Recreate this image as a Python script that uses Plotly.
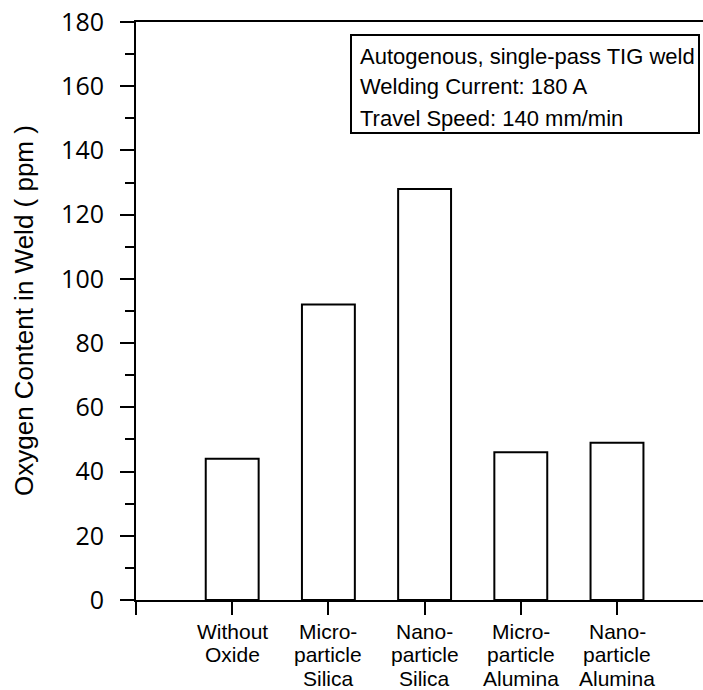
import plotly.graph_objects as go

category_lines = [["Without", "Oxide"], ["Micro-", "particle", "Silica"], ["Nano-", "particle", "Silica"],
                  ["Micro-", "particle", "Alumina"], ["Nano-", "particle", "Alumina"]]
oxygen_ppm = [44, 92, 128, 46, 49]
y_title = "Oxygen Content in Weld ( ppm )"
note_lines = ["Autogenous, single-pass TIG weld", "Welding Current: 180 A", "Travel Speed: 140 mm/min"]

xpos = list(range(len(category_lines)))
FONT = "Liberation Sans, Arial"

W, H = 703, 690
ML, MR, MT, MB = 136, 0, 22, 90
PW, PH = W - ML - MR, H - MT - MB


def px_to_paper_x(px):
    return (px - ML) / PW


def px_to_paper_y(py):
    return (H - MB - py) / PH


fig = go.Figure()
fig.add_trace(go.Bar(
    x=xpos, y=oxygen_ppm, width=0.55,
    marker=dict(color="white", line=dict(color="black", width=2)),
    showlegend=False,
))

fig.update_layout(
    width=W, height=H,
    margin=dict(l=ML, r=MR, t=MT, b=MB),
    plot_bgcolor="white", paper_bgcolor="white",
    font=dict(family=FONT, color="black"),
)

fig.update_xaxes(
    range=[-1, 4.894],
    tickvals=[-1] + xpos, showticklabels=False,
    ticks="outside", ticklen=13, tickwidth=2, tickcolor="black",
    showline=True, linecolor="black", linewidth=2, mirror=True,
    showgrid=False, zeroline=False,
)
fig.update_yaxes(
    range=[0, 180], dtick=20, tick0=0,
    ticks="outside", ticklen=14, tickwidth=2, tickcolor="black",
    minor=dict(dtick=10, ticks="outside", ticklen=9, tickwidth=2, tickcolor="black", showgrid=False),
    showline=True, linecolor="black", linewidth=2, mirror=False,
    showgrid=False, zeroline=False,
    tickfont=dict(size=25, family="Open Sans"),
    ticklabelstandoff=11,
)

# y-axis title
fig.add_annotation(
    xref="paper", yref="paper", x=px_to_paper_x(24), y=px_to_paper_y(311),
    xanchor="center", yanchor="middle", textangle=-90, showarrow=False,
    text=y_title, font=dict(size=26, family=FONT, color="black"),
)

# category labels (one annotation per line for tight line spacing)
line_centers = [631, 654.5, 678]
for xi, lines in zip(xpos, category_lines):
    for li, t in enumerate(lines):
        fig.add_annotation(
            xref="x", yref="paper", x=xi, y=px_to_paper_y(line_centers[li]),
            xanchor="center", yanchor="middle", showarrow=False,
            text=t, font=dict(size=21, family=FONT, color="black"),
        )

# note box
fig.add_shape(
    type="rect", xref="paper", yref="paper",
    x0=px_to_paper_x(351), x1=px_to_paper_x(699), y0=px_to_paper_y(133), y1=px_to_paper_y(35),
    line=dict(color="black", width=2), fillcolor="white", layer="above",
)
note_centers = [56, 87, 118]
for t, yc in zip(note_lines, note_centers):
    fig.add_annotation(
        xref="paper", yref="paper", x=px_to_paper_x(358), y=px_to_paper_y(yc),
        xanchor="left", yanchor="middle", showarrow=False,
        text=t, font=dict(size=22, family=FONT, color="black"),
    )

fig.write_html("out.html")
